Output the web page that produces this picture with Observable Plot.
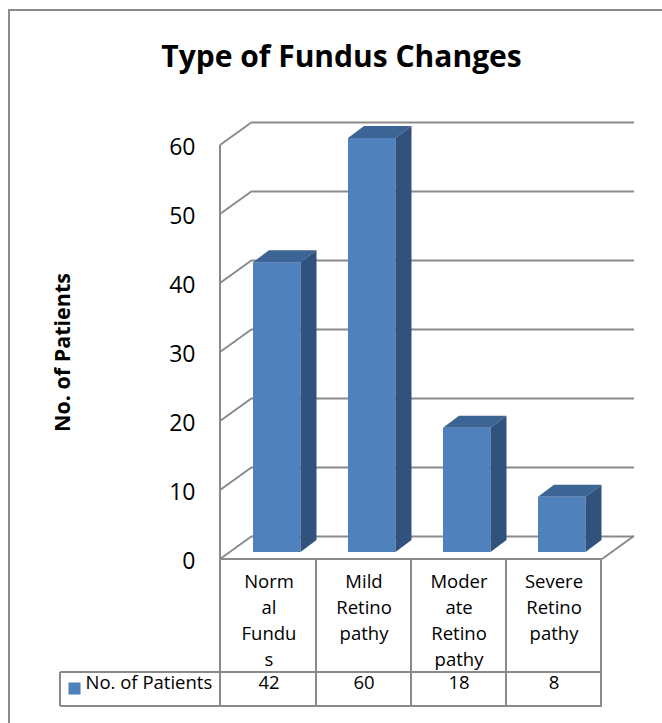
<!DOCTYPE html>
<html><head><meta charset="utf-8">
<script src="https://cdn.jsdelivr.net/npm/d3@7"></script>
<script src="https://cdn.jsdelivr.net/npm/@observablehq/plot@0.6"></script>
<style>
html,body{margin:0;padding:0;background:#fff;overflow:hidden;width:662px;height:723px}
#frame{position:absolute;left:8px;top:9px;width:700px;height:800px;border:2px solid #8c8c8c;box-sizing:border-box}
#chart{position:absolute;left:0;top:0}
</style></head><body><div id="frame"></div><div id="chart"></div>
<script>
// ---- data ----
const chartTitle = "Type of Fundus Changes";
const yTitle = "No. of Patients";
const seriesName = "No. of Patients";
const categories = ["Normal Fundus", "Mild Retinopathy", "Moderate Retinopathy", "Severe Retinopathy"];
const categoryLabels = ["Norm\nal\nFundu\ns", "Mild\nRetino\npathy", "Moder\nate\nRetino\npathy", "Severe\nRetino\npathy"];
const patients = [42, 60, 18, 8];
const yTicks = [0, 10, 20, 30, 40, 50, 60];

// ---- styles ----
const colors = {front: "#4F81BD", top: "#3C6494", side: "#31527D", line: "#8a8a8a"};
const FONT = "'Open Sans', sans-serif";
const WALL_DX = 32, FRONT_DY = 7, BACK_DY = -16;   // 3D wall projection (px)
const BAR_DX = 16, BAR_DY = -12;                   // bar depth (px)
const BAR_INSET_L = 32, BAR_INSET_R = 15.5;
const CAT_ROW_H = 113, VAL_ROW_H = 34, LEGEND_W = 160;

const data = categories.map((c, i) => ({category: c, label: categoryLabels[i], value: patients[i]}));

function bw(X, dims) {
  return typeof X.bandwidth === "function" ? X.bandwidth()
    : (dims.width - dims.marginLeft - dims.marginRight) / categories.length;
}

function wallsAndTable(index, scales, values, dims) {
  const X = scales.x, Y = scales.y, w = bw(X, dims);
  const ml = dims.marginLeft, xr = dims.width - dims.marginRight;
  const g = d3.create("svg:g").attr("fill", "none").attr("stroke", colors.line).attr("stroke-width", 2);
  const seg = (x1, y1, x2, y2) => g.append("line").attr("x1", x1).attr("y1", y1).attr("x2", x2).attr("y2", y2);
  const yf0 = Y(0) + FRONT_DY;
  const tMid = yf0 + CAT_ROW_H, tBot = tMid + VAL_ROW_H;
  for (const t of yTicks) seg(ml, Y(t) + FRONT_DY, ml + WALL_DX, Y(t) + BACK_DY);
  seg(ml, Y(d3.max(yTicks)) + FRONT_DY, ml, tBot);
  seg(ml, yf0, xr, yf0);
  seg(xr, yf0, xr + WALL_DX, Y(0) + BACK_DY);
  seg(ml - LEGEND_W, tMid, xr, tMid);
  seg(ml - LEGEND_W, tBot, xr, tBot);
  seg(ml - LEGEND_W, tMid, ml - LEGEND_W, tBot);
  for (const c of categories) seg(X(c) + w, yf0, X(c) + w, tBot);
  return g.node();
}

function barFaces(index, scales, values, dims) {
  const X = scales.x, Y = scales.y, w = bw(X, dims);
  const g = d3.create("svg:g");
  for (const d of data) {
    const xl = X(d.category) + BAR_INSET_L, xr = X(d.category) + w - BAR_INSET_R;
    const yt = Y(d.value), y0 = Y(0);
    g.append("path").attr("fill", colors.top)
      .attr("d", `M${xl},${yt}L${xl + BAR_DX},${yt + BAR_DY}L${xr + BAR_DX},${yt + BAR_DY}L${xr},${yt}Z`);
    g.append("path").attr("fill", colors.side)
      .attr("d", `M${xr},${yt}L${xr + BAR_DX},${yt + BAR_DY}L${xr + BAR_DX},${y0 + BAR_DY}L${xr},${y0}Z`);
  }
  return g.node();
}

const chart = Plot.plot({
  width: 662, height: 723,
  marginLeft: 220, marginRight: 60, marginTop: 138, marginBottom: 171,
  style: {fontFamily: FONT, background: "transparent", color: "#000"},
  x: {type: "band", domain: categories, padding: 0, axis: null},
  y: {domain: [0, 60]},
  marks: [
    Plot.ruleY(yTicks, {dx: WALL_DX, dy: BACK_DY, stroke: colors.line, strokeWidth: 2}),
    wallsAndTable,
    Plot.barY(data, {x: "category", y: "value", fill: colors.front, insetLeft: BAR_INSET_L, insetRight: BAR_INSET_R}),
    barFaces,
    Plot.axisY({ticks: yTicks, tickSize: 0, tickPadding: 25, dy: 9, fontSize: 23, label: null}),
    Plot.text([yTitle], {frameAnchor: "left", textAnchor: "middle", rotate: -90, dx: -157, dy: 7, fontSize: 21.5, fontWeight: "bold"}),
    Plot.text([chartTitle], {frameAnchor: "top", textAnchor: "middle", dx: -70, dy: -93, fontSize: 30, fontWeight: "bold"}),
    Plot.text(data, {x: "category", text: "label", frameAnchor: "bottom", lineAnchor: "top", lineHeight: 1.4, dy: 17, fontSize: 18.5}),
    Plot.text(data, {x: "category", text: d => String(d.value), frameAnchor: "bottom", dy: 136, fontSize: 18.5}),
    Plot.dot([seriesName], {frameAnchor: "bottom-left", symbol: "square", r: 6.8, fill: colors.front, stroke: null, dx: -146, dy: 136}),
    Plot.text([seriesName], {frameAnchor: "bottom-left", textAnchor: "start", dx: -135, dy: 136, fontSize: 18.5})
  ]
});
document.getElementById("chart").appendChild(chart);
</script>
</body></html>
